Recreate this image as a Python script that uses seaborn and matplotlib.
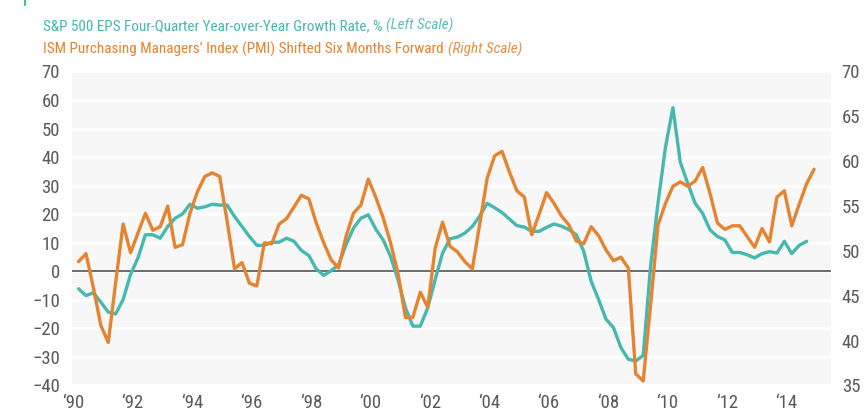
import matplotlib
matplotlib.use("Agg")
import matplotlib.pyplot as plt
from matplotlib import font_manager as fm
from matplotlib.lines import Line2D
import numpy as np
import pandas as pd
import seaborn as sns

# ---------------- data (quarterly, Q1 1990 onward) ----------------
first_quarter = 1990.18   # position of the first quarterly observation (decimal year)
quarter_step = 0.25

eps_growth = [  # S&P 500 EPS four-quarter YoY growth, % (left scale), Q1 1990 - Q3 2014
    -6.1, -8.5, -7.5, -10.8, -14.3, -14.9, -9.9, -1.1,
    4.7, 12.8, 12.8, 11.6, 15.7, 18.6, 20.1, 23.5,
    22.1, 22.6, 23.5, 23.2, 23.2, 19.2, 15.7, 12.2,
    9.1, 9.1, 10.2, 10.2, 11.6, 10.5, 7.3, 5.5,
    0.8, -1.4, 0.2, 2.3, 9.3, 15.1, 18.6, 19.8,
    14.8, 11.0, 5.2, -2.9, -12.8, -19.2, -19.2, -12.8,
    -2.9, 6.4, 11.4, 12.0, 13.4, 15.7, 19.4, 23.8,
    22.3, 20.6, 18.3, 16.0, 15.5, 14.0, 14.0, 15.4,
    16.6, 15.8, 14.6, 12.8, 7.0, -3.5, -9.9, -16.8,
    -19.7, -26.7, -30.8, -31.4, -29.5, 2.0, 24.0, 43.5,
    57.3, 38.2, 30.8, 23.8, 20.3, 14.5, 12.2, 11.0,
    6.6, 6.6, 5.8, 4.7, 6.2, 6.9, 6.4, 10.5,
    6.2, 9.1, 10.5,
]

pmi_shifted = [  # ISM PMI shifted six months forward (right scale), Q1 1990 - Q4 2014
    48.8, 49.7, 45.9, 41.7, 39.8, 46.5, 53.0, 49.8,
    52.0, 54.2, 52.3, 52.7, 55.0, 50.4, 50.7, 54.2,
    56.6, 58.3, 58.7, 58.3, 53.3, 48.0, 48.7, 46.4,
    46.1, 50.9, 50.8, 53.0, 53.6, 54.9, 56.2, 55.8,
    53.1, 50.9, 49.0, 48.1, 51.6, 54.2, 55.1, 58.0,
    56.0, 53.7, 50.9, 47.5, 42.6, 42.6, 45.4, 43.7,
    50.3, 53.2, 50.5, 49.9, 48.8, 48.0, 53.0, 58.1,
    60.6, 61.1, 58.8, 56.7, 56.0, 51.8, 54.1, 56.5,
    55.3, 53.9, 52.9, 51.1, 50.8, 52.7, 51.7, 50.1,
    48.9, 49.3, 48.1, 36.3, 35.5, 44.0, 52.9, 55.3,
    57.2, 57.7, 57.2, 57.8, 59.3, 56.4, 53.1, 52.4,
    52.8, 52.8, 51.6, 50.4, 52.5, 51.0, 56.0, 56.7,
    52.8, 55.2, 57.5, 59.1,
]

left_ticks = [-40, -30, -20, -10, 0, 10, 20, 30, 40, 50, 60, 70]
right_ticks = [35, 40, 45, 50, 55, 60, 65, 70]
year_ticks = [1990, 1992, 1994, 1996, 1998, 2000, 2002, 2004, 2006, 2008, 2010, 2012, 2014]
year_labels = ["\u201890", "\u201892", "\u201894", "\u201896", "\u201898", "\u201800", "\u201802",
               "\u201804", "\u201806", "\u201808", "\u201810", "\u201812", "\u201814"]

legend_lines = [
    ("S&P 500 EPS Four-Quarter Year-over-Year Growth Rate, %", "(Left Scale)"),
    ("ISM Purchasing Managers\u2019 Index (PMI) Shifted Six Months Forward", "(Right Scale)"),
]

# ---------------- frames ----------------
eps_df = pd.DataFrame({
    "year": first_quarter + quarter_step * np.arange(len(eps_growth)),
    "eps": eps_growth,
})
pmi_df = pd.DataFrame({
    "year": first_quarter + quarter_step * np.arange(len(pmi_shifted)),
    "pmi": pmi_shifted,
})

# ---------------- font: prefer an installed condensed sans ----------------
def pick_condensed_family():
    entries = fm.fontManager.ttflist
    narrow = {}
    for f in entries:
        nm = f.name
        st = str(f.stretch).lower()
        if ("narrow" in nm.lower() or "condensed" in nm.lower() or "condensed" in st
                or "narrow" in st):
            narrow.setdefault(nm, []).append(f)
    prefs = ["Liberation Sans Narrow", "Roboto Condensed", "Noto Sans", "DejaVu Sans",
             "Open Sans", "Noto Sans Display", "Liberation Sans"]
    for p in prefs:
        if p in narrow:
            return p
    for nm in narrow:
        if "Sans" in nm or "Roboto" in nm:
            return nm
    return None

cond_family = pick_condensed_family()

TEAL = "#45b8b0"
ORANGE = "#e6832f"
TICK = "#58595b"

sns.set_theme(style="white")
if cond_family:
    plt.rcParams["font.family"] = [cond_family, "Roboto", "DejaVu Sans"]
    plt.rcParams["font.stretch"] = "condensed"
else:
    plt.rcParams["font.family"] = ["Roboto", "DejaVu Sans"]

W, H = 865, 413
fig = plt.figure(figsize=(W / 100, H / 100), dpi=100)
ax_l, ax_r, ax_t, ax_b = 72, 831, 71.5, 385.5
ax = fig.add_axes([ax_l / W, 1 - ax_b / H, (ax_r - ax_l) / W, (ax_b - ax_t) / H])
ax.set_facecolor("#f7f7f7")

ax.set_ylim(left_ticks[0], left_ticks[-1])
ax.set_yticks(left_ticks)
ax.set_xlim(1989.96, 2015.5)
ax.set_xticks(year_ticks)
ax.set_xticklabels(year_labels)
ax.grid(axis="y", color="white", lw=2.2)
ax.grid(axis="x", visible=False)
ax.set_axisbelow(True)
ax.axhline(0, color="#6d6d6d", lw=1.4, zorder=2)

sns.lineplot(data=eps_df, x="year", y="eps", ax=ax, color=TEAL, lw=2.4, zorder=4)

ax2 = ax.twinx()
sns.lineplot(data=pmi_df, x="year", y="pmi", ax=ax2, color=ORANGE, lw=2.4, zorder=4)
ax2.set_ylim(right_ticks[0], right_ticks[-1])
ax2.set_yticks(right_ticks)
ax2.set_xlim(1989.96, 2015.5)
ax2.grid(False)

for a in (ax, ax2):
    a.set_xlabel("")
    a.set_ylabel("")
    for s in a.spines.values():
        s.set_visible(False)
ax.tick_params(axis="y", length=0, labelsize=13.5, labelcolor=TICK, pad=8.6)
ax.tick_params(axis="x", length=0, labelsize=13.5, labelcolor=TICK, pad=6.0)
ax2.tick_params(axis="y", length=0, labelsize=13.5, labelcolor=TICK, pad=7.7)

# ---------------- legend text (sized close to the reference's line widths) ----------------
fig.canvas.draw()
renderer = fig.canvas.get_renderer()
target_main_width = [300.0, 360.0]   # pixel widths of the two main phrases
probe_fs = 12.0
scales = []
for (main, _), tw in zip(legend_lines, target_main_width):
    t = fig.text(0, 0, main, fontsize=probe_fs)
    scales.append(tw / t.get_window_extent(renderer).width)
    t.remove()
legend_fs = min(13.0, 1.12 * probe_fs * float(np.mean(scales)))

baselines = [30, 54]
colors = [TEAL, ORANGE]
for (main, note), base, col in zip(legend_lines, baselines, colors):
    t = fig.text(43 / W, 1 - base / H, main, color=col, fontsize=legend_fs,
                 va="baseline", ha="left")
    bb = t.get_window_extent(renderer)
    fig.text((bb.x1 + 4) / W, 1 - base / H, note, color=col, fontsize=legend_fs,
             style="italic", va="baseline", ha="left", alpha=0.9)

fig.add_artist(Line2D([25 / W, 25 / W], [1, 1 - 5 / H], color=TEAL, lw=1.5))

fig.savefig("out.png", dpi=100)
